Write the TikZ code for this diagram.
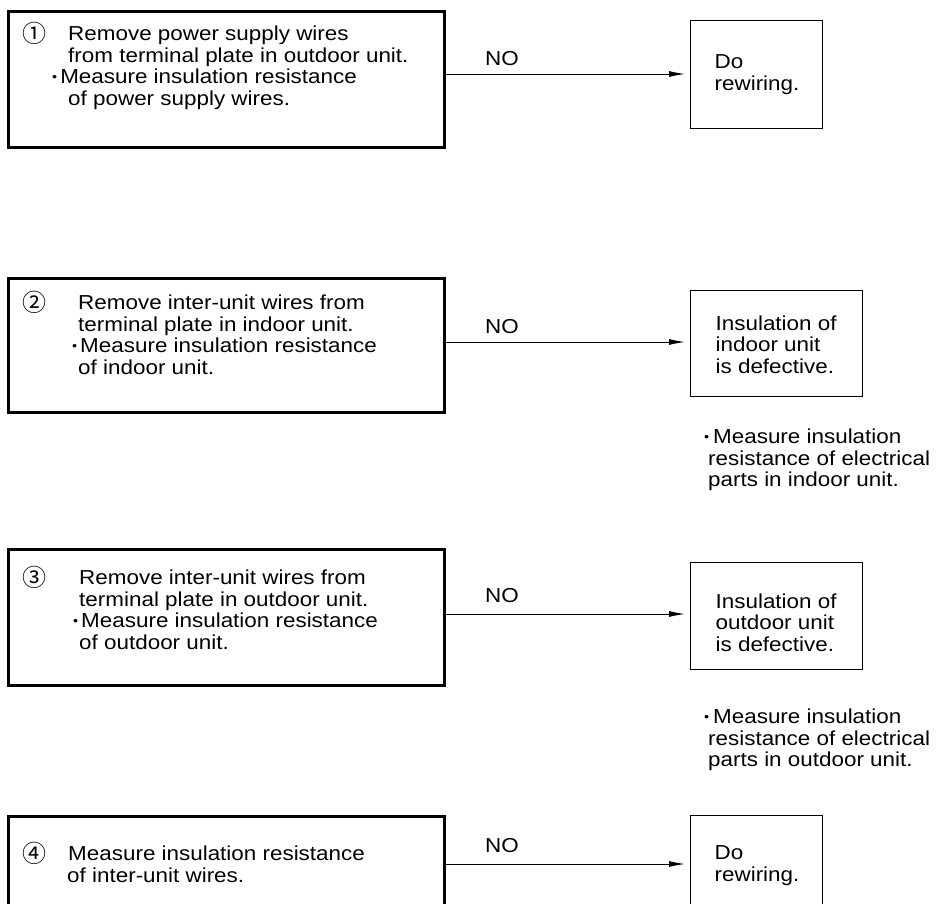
\documentclass[tikz,border=0pt]{standalone}
\usepackage{fontspec}
\setmainfont{Liberation Sans}[FakeStretch=1.11]
\newfontfamily\circfont{Noto Sans CJK JP}
\usetikzlibrary{arrows.meta}
\newcommand\mainsz{\fontsize{20.2}{21.5}\selectfont}
% width, height, top space, left indent, content
\newcommand\bx[5]{\parbox[c][#2pt][t]{#1pt}{\mainsz\vspace*{#3pt}\leftskip=#4pt\relax\parindent=0pt\noindent #5}}
\newcommand\cnum[2]{\makebox[0pt][r]{\makebox[#2pt][l]{\raisebox{-2pt}[0pt][0pt]{\circfont\fontsize{24}{24}\selectfont #1}}}}
\newcommand\bul[1]{\makebox[0pt][r]{\raisebox{2.5pt}{\fontsize{13}{13}\selectfont •}\hspace{#1pt}}}
\tikzset{
  leftbox/.style={draw, line width=2.5pt, inner sep=0pt, anchor=north west},
  rightbox/.style={draw, line width=1.3pt, inner sep=0pt, anchor=north west},
  notetext/.style={inner sep=0pt, anchor=north west},
  nolabel/.style={inner sep=0pt, anchor=base, font=\mainsz},
  arr/.style={-{Latex[length=16pt,width=6pt]}, line width=1pt, shorten >=5pt}
}
\begin{document}
\begin{tikzpicture}[x=1pt,y=-1pt]
\useasboundingbox (0,0) rectangle (943,903);
\clip (0,0) rectangle (943,903);
% row 1
\node[leftbox] (b1) at (7,10) {\bx{436}{136}{15}{60}{\cnum{①}{46}Remove power supply wires\\from terminal plate in outdoor unit.\\\hspace*{-8pt}\bul{3}Measure insulation resistance\\of power supply wires.}};
\node[rightbox] (d1) at (690,20) {\bx{132}{108}{34}{24}{Do\\rewiring.}};
\node[nolabel] (n1) at (502,65) {NO};
\coordinate (y1) at (0,74);
\draw[arr] (b1.east |- y1) -- (d1.west |- y1);
% row 2
\node[leftbox] (b2) at (7,277) {\bx{436}{134}{17}{70}{\cnum{②}{56}Remove inter-unit wires from\\terminal plate in indoor unit.\\\hspace*{2pt}\bul{3}Measure insulation resistance\\of indoor unit.}};
\node[rightbox] (d2) at (690,290) {\bx{172}{106}{25}{25}{Insulation of\\indoor unit\\is defective.}};
\node[nolabel] (n2) at (502,333) {NO};
\coordinate (y2) at (0,342);
\draw[arr] (b2.east |- y2) -- (d2.west |- y2);
\node[notetext] (m2) at (708,429) {\bx{235}{70}{0}{0}{\hspace*{5pt}\bul{4}Measure insulation\\resistance of electrical\\parts in indoor unit.}};
% row 3
\node[leftbox] (b3) at (7,548) {\bx{436}{136}{21}{71}{\cnum{③}{57}Remove inter-unit wires from\\terminal plate in outdoor unit.\\\hspace*{2pt}\bul{3}Measure insulation resistance\\of outdoor unit.}};
\node[rightbox] (d3) at (690,562) {\bx{172}{107}{31}{25}{Insulation of\\outdoor unit\\is defective.}};
\node[nolabel] (n3) at (502,602) {NO};
\coordinate (y3) at (0,614);
\draw[arr] (b3.east |- y3) -- (d3.west |- y3);
\node[notetext] (m3) at (708,709) {\bx{235}{70}{0}{0}{\hspace*{5pt}\bul{4}Measure insulation\\resistance of electrical\\parts in outdoor unit.}};
% row 4
\node[leftbox] (b4) at (7,815) {\bx{436}{135}{30}{59}{\hspace*{1pt}\cnum{④}{46}Measure insulation resistance\\of inter-unit wires.}};
\node[rightbox] (d4) at (690,815) {\bx{132}{120}{30}{24}{Do\\rewiring.}};
\node[nolabel] (n4) at (502,852) {NO};
\coordinate (y4) at (0,864);
\draw[arr] (b4.east |- y4) -- (d4.west |- y4);
\end{tikzpicture}
\end{document}
